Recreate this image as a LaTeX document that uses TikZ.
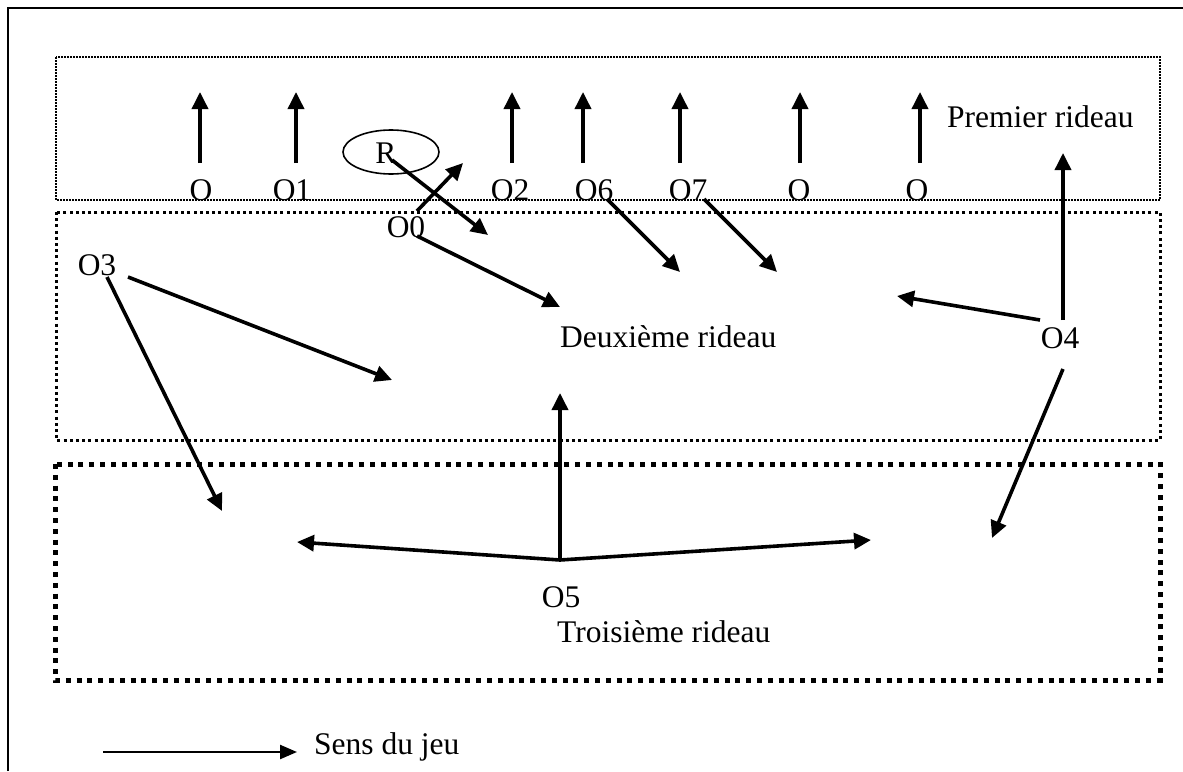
\documentclass[tikz,border=0pt]{standalone}
\usepackage{fontspec}
\setmainfont{Liberation Serif}
\usetikzlibrary{arrows.meta,shapes.geometric}
\begin{document}
\begin{tikzpicture}[x=1pt,y=-1pt,
  arr/.style={line width=3.6pt,-{Triangle[length=17pt,width=16pt]}},
  legarr/.style={line width=2.4pt,-{Triangle[length=17pt,width=14pt]}},
  lbl/.style={font=\fontsize{31.5}{36}\selectfont, inner sep=0pt, anchor=base},
  boxa/.style={line width=1.6pt, dash pattern=on 1.6pt off 1.4pt},
  boxb/.style={line width=3pt, dash pattern=on 3pt off 3.2pt},
  boxc/.style={line width=5pt, dash pattern=on 5pt off 5.8pt},
  frame/.style={line width=2.4pt}]
\useasboundingbox (0,0) rectangle (1183,771);
% frame
\draw[frame] (8,771) -- (8,8) -- (1183,8);
% curtains
\draw[boxa] (56,57) rectangle (1160,200);
\draw[boxb] (56,212) rectangle (1160,440);
\draw[boxc] (55,464) rectangle (1160,680);
% labels
\node[lbl] (lO) at (201,200) {O};
\node[lbl] (lO1) at (292,200) {O1};
\node[lbl] (lO2) at (510,200) {O2};
\node[lbl] (lO6) at (594,200) {O6};
\node[lbl] (lO7) at (688,200) {O7};
\node[lbl] (lOb) at (799,200) {O};
\node[lbl] (lOc) at (917,200) {O};
\node[lbl] (lO0) at (406,237) {O0};
\node[lbl] (lO3) at (97,275) {O3};
\node[lbl] (lO4) at (1060,348) {O4};
\node[lbl] (lO5) at (561,607) {O5};
\node[lbl,anchor=base west] (premier) at (947,127) {Premier rideau};
\node[lbl,anchor=base west] (deuxieme) at (560,347) {Deuxième rideau};
\node[lbl,anchor=base west] (troisieme) at (557,642) {Troisième rideau};
\node[lbl,anchor=base west] (sens) at (314,754) {Sens du jeu};
\node[ellipse, draw, line width=1.6pt, minimum width=96pt, minimum height=44pt, inner sep=0pt] (Rell) at (391,152) {};
\node[lbl] (R) at (386,163) {R};
% coordinates
\foreach \n/\x in {a/200,b/296,c/512,d/583,e/680,f/800,g/920}{
  \coordinate (s\n) at (\x,163);
  \coordinate (t\n) at (\x,92);
}
\coordinate (rs) at (392,160);   \coordinate (rt) at (488,235);
\coordinate (o0s) at (417,211);  \coordinate (o0t) at (463,163);
\coordinate (o0s2) at (417,236); \coordinate (o0t2) at (560,307);
\coordinate (o6s) at (607,199);  \coordinate (o6t) at (680,272);
\coordinate (o7s) at (704,199);  \coordinate (o7t) at (777,272);
\coordinate (o3s) at (128,277);  \coordinate (o3t) at (392,380);
\coordinate (o3s2) at (107,277); \coordinate (o3t2) at (222,511);
\coordinate (o4s) at (1040,320); \coordinate (o4t) at (897,296);
\coordinate (o4s2) at (1063,320); \coordinate (o4t2) at (1063,153);
\coordinate (o4s3) at (1063,369); \coordinate (o4t3) at (992,538);
\coordinate (o5) at (560,560);
\coordinate (o5up) at (560,393);
\coordinate (o5l) at (297,542);
\coordinate (o5r) at (871,540);
\coordinate (ls) at (103,752);   \coordinate (lt) at (297,752);
% arrows
\foreach \n in {a,b,c,d,e,f,g}{\draw[arr] (s\n) -- (t\n);}
\draw[arr] (rs) -- (rt);
\draw[arr] (o0s) -- (o0t);
\draw[arr] (o0s2) -- (o0t2);
\draw[arr] (o6s) -- (o6t);
\draw[arr] (o7s) -- (o7t);
\draw[arr] (o3s) -- (o3t);
\draw[arr] (o3s2) -- (o3t2);
\draw[arr] (o4s) -- (o4t);
\draw[arr] (o4s2) -- (o4t2);
\draw[arr] (o4s3) -- (o4t3);
\draw[arr] (o5) -- (o5up);
\draw[arr] (o5) -- (o5l);
\draw[arr] (o5) -- (o5r);
\draw[legarr] (ls) -- (lt);
\end{tikzpicture}
\end{document}
